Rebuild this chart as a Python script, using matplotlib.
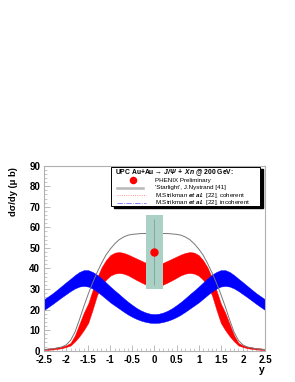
import matplotlib
matplotlib.use("Agg")
import matplotlib.pyplot as plt
from matplotlib.patches import Rectangle
from matplotlib.lines import Line2D
import numpy as np

plt.rcParams['font.family'] = ['Liberation Sans', 'DejaVu Sans']
plt.rcParams['mathtext.fontset'] = 'custom'
plt.rcParams['mathtext.rm'] = 'Liberation Sans'
plt.rcParams['mathtext.it'] = 'Liberation Sans:italic'
plt.rcParams['mathtext.bf'] = 'Liberation Sans:bold:italic'

# ---------------- data ----------------
y_rap = [-2.5, -2.3, -2.1, -2.0, -1.9, -1.8, -1.7, -1.6, -1.5, -1.4, -1.3, -1.2,
         -1.1, -1.0, -0.9, -0.8, -0.7, -0.6, -0.5, -0.4, -0.3, -0.2, -0.1, 0.0,
         0.1, 0.2, 0.3, 0.4, 0.5, 0.6, 0.7, 0.8, 0.9, 1.0, 1.1, 1.2, 1.3, 1.4,
         1.5, 1.6, 1.7, 1.8, 1.9, 2.0, 2.1, 2.3, 2.5]

starlight = [0.5, 0.9, 1.8, 2.8, 5.0, 9.0, 15.0, 21.5, 27.5, 33.0, 38.0, 42.5,
             46.5, 49.5, 52.0, 54.0, 55.3, 56.2, 56.6, 56.8, 57.0, 57.0, 57.0, 57.0,
             57.0, 57.0, 57.0, 56.8, 56.6, 56.2, 55.3, 54.0, 52.0, 49.5, 46.5, 42.5,
             38.0, 33.0, 27.5, 21.5, 15.0, 9.0, 5.0, 2.8, 1.8, 0.9, 0.5]

coh_low = [0.3, 0.6, 1.2, 1.8, 2.5, 4.5, 7.0, 10.0, 13.5, 20.0, 27.0, 31.5,
           34.5, 36.5, 37.5, 37.8, 37.5, 36.7, 35.5, 34.3, 33.2, 32.2, 31.5, 31.2,
           31.5, 32.2, 33.2, 34.3, 35.5, 36.7, 37.5, 37.8, 37.5, 36.5, 34.5, 31.5,
           27.0, 20.0, 13.5, 10.0, 7.0, 4.5, 2.5, 1.8, 1.2, 0.6, 0.3]
coh_high = [0.9, 1.3, 2.0, 2.6, 3.8, 7.5, 13.0, 18.5, 23.0, 29.5, 35.5, 40.5,
            44.0, 46.5, 47.7, 48.0, 47.6, 46.8, 45.8, 44.8, 43.8, 42.8, 42.0, 41.7,
            42.0, 42.8, 43.8, 44.8, 45.8, 46.8, 47.6, 48.0, 47.7, 46.5, 44.0, 40.5,
            35.5, 29.5, 23.0, 18.5, 13.0, 7.5, 3.8, 2.6, 2.0, 1.3, 0.9]

inc_low = [19.8, 22.8, 26.0, 27.5, 29.0, 30.3, 31.2, 31.5, 31.2, 30.2, 28.8, 27.1,
           25.3, 23.5, 22.0, 20.5, 19.0, 17.6, 16.4, 15.4, 14.6, 14.0, 13.6, 13.5,
           13.6, 14.0, 14.6, 15.4, 16.4, 17.6, 19.0, 20.5, 22.0, 23.5, 25.3, 27.1,
           28.8, 30.2, 31.2, 31.5, 31.2, 30.3, 29.0, 27.5, 26.0, 22.8, 19.8]
inc_high = [25.0, 28.0, 31.5, 33.3, 35.0, 36.8, 38.3, 39.2, 39.2, 38.3, 37.0, 35.2,
            33.2, 31.2, 29.3, 27.5, 25.6, 23.8, 22.2, 20.7, 19.5, 18.6, 18.0, 17.8,
            18.0, 18.6, 19.5, 20.7, 22.2, 23.8, 25.6, 27.5, 29.3, 31.2, 33.2, 35.2,
            37.0, 38.3, 39.2, 39.2, 38.3, 36.8, 35.0, 33.3, 31.5, 28.0, 25.0]

phenix_y = [0.0]
phenix_val = [48.0]
phenix_stat = [16.0]
phenix_sys = [18.0]

x_ticks = [-2.5, -2.0, -1.5, -1.0, -0.5, 0.0, 0.5, 1.0, 1.5, 2.0, 2.5]
x_ticklabels = ['-2.5', '-2', '-1.5', '-1', '-0.5', '0', '0.5', '1', '1.5', '2', '2.5']
y_ticks = [0, 10, 20, 30, 40, 50, 60, 70, 80, 90]

legend_title = r'UPC Au+Au → $\mathbf{J/Ψ\ +\ Xn}$ @ 200 GeV:'
legend_labels = ['PHENIX Preliminary',
                 "'Starlight', J.Nystrand [41]",
                 r'M.Strikman $\mathbf{et\ al.}$ [22], coherent',
                 r'M.Strikman $\mathbf{et\ al.}$ [22], incoherent']

# ---------------- figure ----------------
W, H = 295, 382
fig = plt.figure(figsize=(W / 100, H / 100), dpi=100)
fig.patch.set_facecolor('white')

def fx(px):
    return px / W

def fy(py):
    return 1 - py / H

ax = fig.add_axes([fx(44), fy(350.7), fx(265) - fx(44), fy(165.7) - fy(350.7)])
ax.set_xlim(-2.5, 2.5)
ax.set_ylim(0, 90)

ax.fill_between(y_rap, coh_low, coh_high, color='#ff0000', lw=0.3, ec='#ff0000', zorder=2)
ax.fill_between(y_rap, inc_low, inc_high, color='#0000ff', lw=0.3, ec='#0000ff', zorder=2.5)
ax.plot(y_rap, starlight, color='#777777', lw=0.7, zorder=3)

for xv, v, st, sy in zip(phenix_y, phenix_val, phenix_stat, phenix_sys):
    ax.add_patch(Rectangle((xv - 0.2, v - sy), 0.4, 2 * sy, facecolor='#abd0c6',
                           edgecolor='none', zorder=4))
ax.errorbar(phenix_y, phenix_val, yerr=phenix_stat, fmt='o', color='#ff0000',
            ms=5, mec='#ff0000', ecolor='#7f9f96', elinewidth=0.6, capsize=0, zorder=5)

for s in ax.spines.values():
    s.set_color('#b0b0b0')
    s.set_linewidth(0.8)

ax.set_xticks(x_ticks)
ax.set_xticklabels(x_ticklabels)
ax.set_yticks(y_ticks)
ax.set_xticks(np.arange(-2.5, 2.51, 0.1), minor=True)
ax.set_yticks(np.arange(0, 90.1, 2), minor=True)
ax.tick_params(axis='both', which='major', direction='in', length=4.3, width=0.6,
               color='#b0b0b0', labelsize=7)
ax.tick_params(axis='both', which='minor', direction='in', length=2.2, width=0.5,
               color='#b0b0b0')
ax.tick_params(axis='x', pad=3.4)
ax.tick_params(axis='y', pad=2.8)
for lab in ax.get_xticklabels() + ax.get_yticklabels():
    lab.set_fontweight('bold')

fig.text(fx(262), fy(370), 'y', fontsize=7.5, fontweight='bold', ha='center', va='center')
fig.text(fx(14), fy(191.5), 'dσ/dy (μ b)', fontsize=6.8, fontweight='bold',
         rotation=90, ha='center', va='center')

# ---------------- legend ----------------
lx0, ly0, lx1, ly1 = 111, 167, 260, 206
fig.patches.append(Rectangle((fx(lx0 + 2.5), fy(ly1 + 2.5)), fx(lx1) - fx(lx0),
                             fy(ly0) - fy(ly1), transform=fig.transFigure,
                             facecolor='black', edgecolor='black', zorder=10))
fig.patches.append(Rectangle((fx(lx0), fy(ly1)), fx(lx1) - fx(lx0),
                             fy(ly0) - fy(ly1), transform=fig.transFigure,
                             facecolor='white', edgecolor='black', lw=0.7, zorder=11))
fig.text(fx(115), fy(172.3), legend_title, fontsize=4.9, fontweight='bold',
         ha='left', va='center', zorder=12)
rows = [180.2, 187.8, 195.3, 202.9]
fig.lines.append(Line2D([fx(133)], [fy(rows[0])], marker='o', ms=4.4, color='#ff0000',
                        transform=fig.transFigure, zorder=12))
fig.lines.append(Line2D([fx(117), fx(143)], [fy(rows[1])] * 2, color='#b8b8b8', lw=1.8,
                        transform=fig.transFigure, zorder=12))
fig.lines.append(Line2D([fx(117), fx(146)], [fy(rows[2])] * 2, color='#ff7070', lw=0.6,
                        ls=':', transform=fig.transFigure, zorder=12))
fig.lines.append(Line2D([fx(117), fx(146)], [fy(rows[3])] * 2, color='#7070ff', lw=0.6,
                        ls='-.', transform=fig.transFigure, zorder=12))
for r, lab in zip(rows, legend_labels):
    fig.text(fx(155), fy(r), lab, fontsize=4.5, ha='left', va='center', zorder=12)

fig.savefig('out.png', dpi=100)
